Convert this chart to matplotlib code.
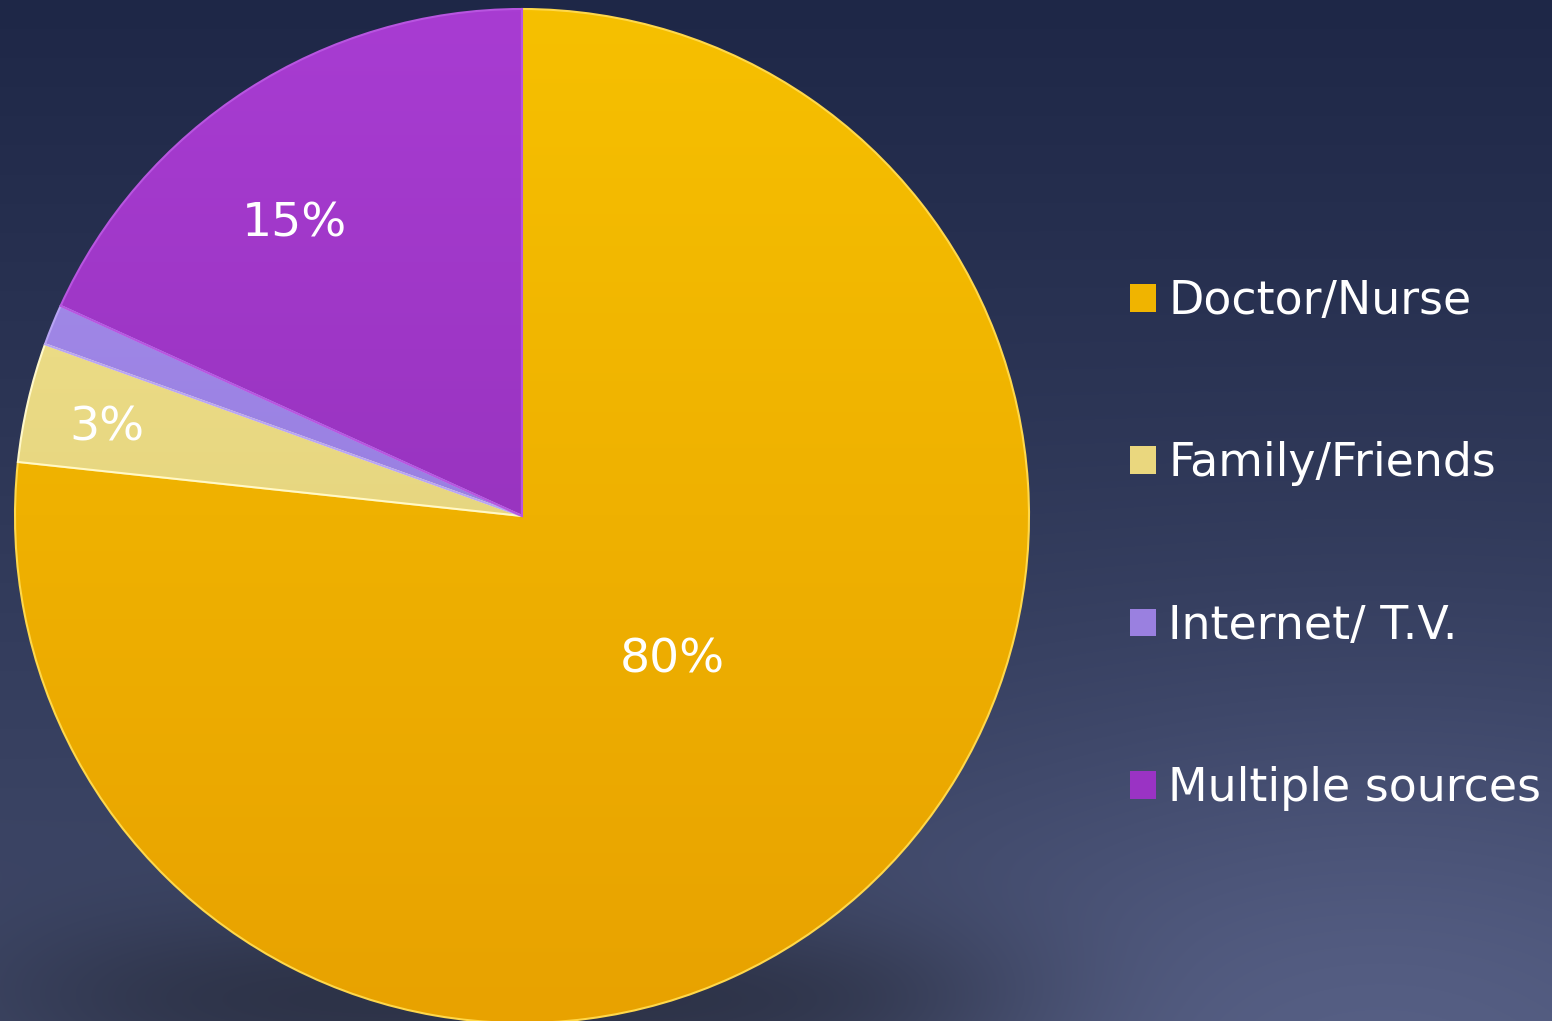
import numpy as np
import matplotlib
matplotlib.use("Agg")
import matplotlib.pyplot as plt
from matplotlib.colors import to_rgb
from matplotlib.patches import Rectangle

categories = ["Doctor/Nurse", "Family/Friends", "Internet/ T.V.", "Multiple sources"]
shares = [76.7, 3.8, 1.3, 18.2]
slice_labels = ["80%", "3%", "", "15%"]

W, H = 1552, 1021
fig = plt.figure(figsize=(15.52, 10.21), dpi=100)

# ---- background ----
bg = fig.add_axes([0, 0, 1, 1])
bg.axis("off")
yy, xx = np.mgrid[0:H, 0:W].astype(float)
t = (yy / H)[..., None]
top = np.array(to_rgb("#1e2747"))
bot = np.array(to_rgb("#414a6a"))
img = top * (1 - t) + bot * t
d2 = ((xx - 1380) / 520) ** 2 + ((yy - 1010) / 330) ** 2
img += np.exp(-d2)[..., None] * np.array([0.08, 0.08, 0.10])
s = np.exp(-(((xx - 500) / 500) ** 4 + ((yy - 1000) / 90) ** 2))[..., None]
shadow = np.array(to_rgb("#2a2f42"))
img = img * (1 - 0.85 * s) + shadow * 0.85 * s
img = np.clip(img, 0, 1)
bg.imshow(img, extent=[0, W, H, 0], aspect="auto")
bg.set_xlim(0, W)
bg.set_ylim(H, 0)

# ---- pie ----
ax = fig.add_axes([0, 0, 1, 1])
ax.patch.set_alpha(0)
cx, cy, R = 522, H - 516, 507
base_cols = ["#f0b400", "#ead77e", "#9a80e0", "#9a33c4"]
grads = [("#f6c000", "#e8a200"), ("#f5e690", "#d8c670"),
         ("#a890ec", "#8a70d8"), ("#a83cd2", "#8a2cae")]
edges = ["#ffd84a", "#fff8c8", "#b8a4f4", "#b855e0"]
wedges, _ = ax.pie(shares, colors=base_cols, startangle=90, counterclock=False,
                   center=(cx, cy), radius=R,
                   wedgeprops=dict(linewidth=1.5))
g = np.linspace(0, 1, 256)[:, None, None]
for w, (c1, c2), ec in zip(wedges, grads, edges):
    cols = np.array(to_rgb(c1)) * (1 - g) + np.array(to_rgb(c2)) * g
    im = ax.imshow(cols, extent=[cx - R, cx + R, cy - R, cy + R], origin="upper",
                   aspect="auto", zorder=1)
    im.set_clip_path(w)
    w.set_facecolor("none")
    w.set_edgecolor(ec)
    w.set_zorder(2)

# label placement (angle in degrees, radial fraction)
label_angles = [-43.8, 168.0, 0.0, 127.9]
label_fracs = [0.41, 0.837, 0.0, 0.73]
for lab, a, f in zip(slice_labels, label_angles, label_fracs):
    if not lab:
        continue
    th = np.deg2rad(a)
    ax.text(cx + f * R * np.cos(th), cy + f * R * np.sin(th), lab,
            ha="center", va="center", color="white", fontsize=34,
            family="DejaVu Sans", zorder=3)

ax.set_xlim(0, W)
ax.set_ylim(0, H)
ax.set_aspect("auto")
ax.axis("off")

handles = [Rectangle((0, 0), 1, 1, facecolor=c, edgecolor="none") for c in base_cols]
leg = ax.legend(handles, categories, loc="upper left",
                bbox_to_anchor=(1130 / W, (H - 279) / H), bbox_transform=fig.transFigure,
                frameon=False, borderpad=0, borderaxespad=0,
                handlelength=0.56, handleheight=0.56, handletextpad=0.28,
                labelspacing=2.56, prop=dict(family="DejaVu Sans", size=33))
for txt in leg.get_texts():
    txt.set_color("white")

fig.savefig("out.png", dpi=100)
